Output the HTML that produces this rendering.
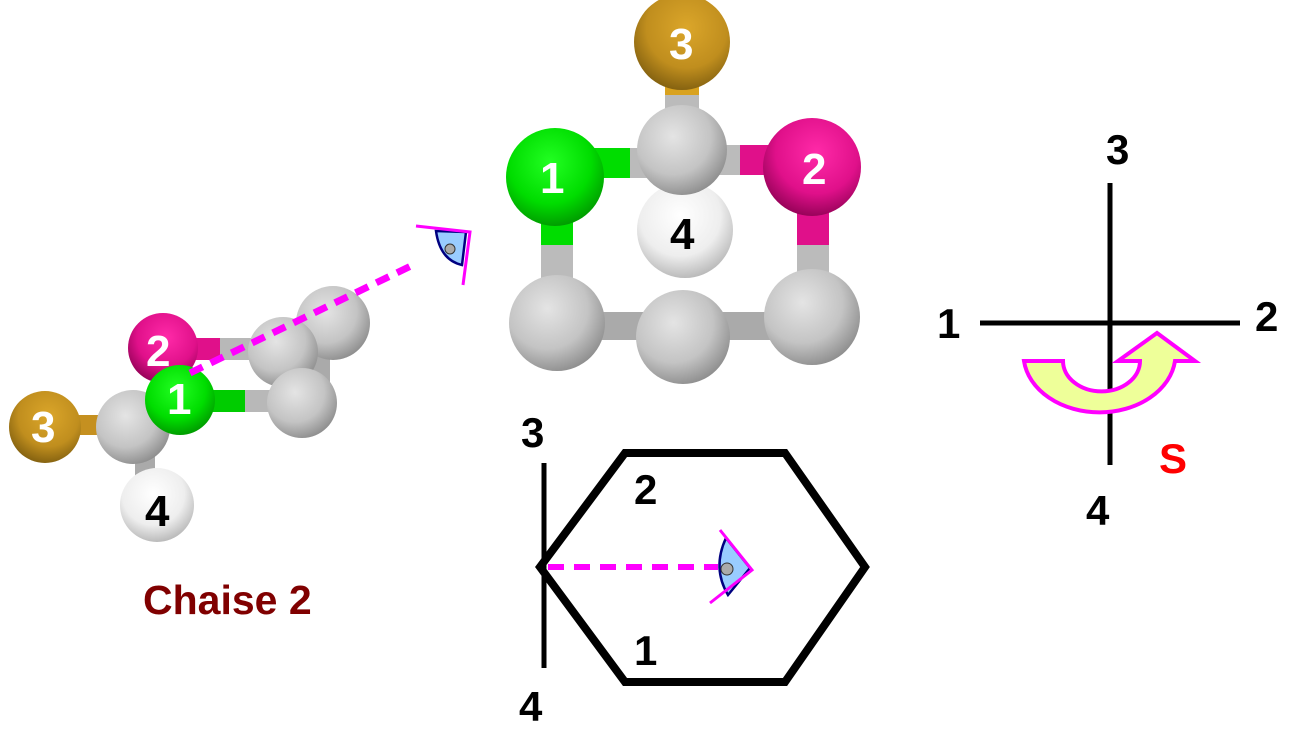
<!DOCTYPE html>
<html><head><meta charset="utf-8"><style>
html,body{margin:0;padding:0;background:#fff;}
svg{display:block}
text{font-family:"Liberation Sans",Arial,sans-serif;font-weight:bold;}
</style></head><body>
<svg width="1303" height="739" viewBox="0 0 1303 739">
<defs>
<radialGradient id="gG" cx="0.4" cy="0.35" r="0.7"><stop offset="0" stop-color="#e4e4e4"/><stop offset="0.6" stop-color="#c4c4c4"/><stop offset="1" stop-color="#8a8a8a"/></radialGradient>
<radialGradient id="gW" cx="0.45" cy="0.35" r="0.7"><stop offset="0" stop-color="#ffffff"/><stop offset="0.6" stop-color="#eeeeee"/><stop offset="1" stop-color="#b0b0b0"/></radialGradient>
<radialGradient id="gO" cx="0.55" cy="0.35" r="0.7"><stop offset="0" stop-color="#dba62a"/><stop offset="0.6" stop-color="#c08e1e"/><stop offset="1" stop-color="#7a5a0e"/></radialGradient>
<radialGradient id="gN" cx="0.45" cy="0.35" r="0.7"><stop offset="0" stop-color="#22ff22"/><stop offset="0.6" stop-color="#00dd00"/><stop offset="1" stop-color="#009000"/></radialGradient>
<radialGradient id="gM" cx="0.55" cy="0.35" r="0.7"><stop offset="0" stop-color="#ff2aa8"/><stop offset="0.6" stop-color="#e0108a"/><stop offset="1" stop-color="#8a0050"/></radialGradient>
</defs>

<!-- Left molecule -->
<g>
<rect x="180" y="338" width="100" height="22" fill="#b8b8b8"/>
<rect x="170" y="338" width="50" height="22" fill="#e0108a"/>
<rect x="190" y="390" width="110" height="22" fill="#b8b8b8"/>
<rect x="200" y="390" width="45" height="22" fill="#00cc00"/>
<rect x="305" y="340" width="25" height="60" fill="#aaa"/>
<rect x="60" y="415" width="60" height="20" fill="#c59020"/>
<rect x="135" y="445" width="20" height="40" fill="#aaa"/>
<circle cx="333" cy="323" r="37" fill="url(#gG)"/>
<circle cx="283" cy="352" r="35" fill="url(#gG)"/>
<circle cx="302" cy="403" r="35" fill="url(#gG)"/>
<circle cx="163" cy="348" r="35" fill="url(#gM)"/>
<circle cx="157" cy="505" r="37" fill="url(#gW)"/>
<circle cx="45" cy="427" r="36" fill="url(#gO)"/>
<circle cx="133" cy="427" r="37" fill="url(#gG)"/>
<circle cx="180" cy="400" r="35" fill="url(#gN)"/>
<text x="146" y="366" font-size="44" fill="#fff">2</text>
<text x="167" y="414" font-size="44" fill="#fff">1</text>
<text x="31" y="442" font-size="44" fill="#fff">3</text>
<text x="145" y="526" font-size="44" fill="#000">4</text>
<line x1="190" y1="373" x2="413" y2="265" stroke="#ff00ff" stroke-width="7" stroke-dasharray="14,9"/>
<path d="M436 231 Q440 260 462 265 L466 232 Z" fill="#99ccff" stroke="#000080" stroke-width="2.5"/>
<circle cx="450" cy="249" r="5" fill="#aaa" stroke="#333" stroke-width="1"/>
<polyline points="416,226 470,232 463,285" fill="none" stroke="#ff00ff" stroke-width="3"/>
<text x="143" y="614" font-size="41" fill="#800000">Chaise 2</text>
</g>

<!-- Top middle molecule -->
<g>
<rect x="665" y="85" width="34" height="30" fill="#bbb"/>
<rect x="665" y="85" width="34" height="10" fill="#d9a21f"/>
<rect x="590" y="148" width="70" height="30" fill="#bbb"/>
<rect x="590" y="148" width="40" height="30" fill="#00dd00"/>
<rect x="710" y="145" width="80" height="30" fill="#bbb"/>
<rect x="740" y="145" width="50" height="30" fill="#e0108a"/>
<rect x="541" y="210" width="32" height="70" fill="#bbb"/>
<rect x="541" y="210" width="32" height="35" fill="#00dd00"/>
<rect x="797" y="205" width="32" height="70" fill="#bbb"/>
<rect x="797" y="205" width="32" height="40" fill="#e0108a"/>
<rect x="590" y="312" width="200" height="28" fill="#aaa"/>
<circle cx="682" cy="42" r="48" fill="url(#gO)"/>
<circle cx="685" cy="230" r="48" fill="url(#gW)"/>
<circle cx="682" cy="150" r="45" fill="url(#gG)"/>
<circle cx="555" cy="177" r="49" fill="url(#gN)"/>
<circle cx="812" cy="167" r="49" fill="url(#gM)"/>
<circle cx="557" cy="323" r="48" fill="url(#gG)"/>
<circle cx="812" cy="317" r="48" fill="url(#gG)"/>
<circle cx="683" cy="337" r="47" fill="url(#gG)"/>
<text x="669" y="59" font-size="44" fill="#fff">3</text>
<text x="540" y="193" font-size="44" fill="#fff">1</text>
<text x="802" y="184" font-size="44" fill="#fff">2</text>
<text x="670" y="249" font-size="44" fill="#000">4</text>
</g>

<!-- Hexagon diagram -->
<g>
<polygon points="540,567 625,453 785,453 865,567 785,682 625,682" fill="none" stroke="#000" stroke-width="8" stroke-linejoin="miter"/>
<line x1="544" y1="463" x2="544" y2="668" stroke="#000" stroke-width="5"/>
<line x1="548" y1="567" x2="718" y2="567" stroke="#ff00ff" stroke-width="6" stroke-dasharray="16,10"/>
<path d="M726 538 Q712 568 728 595 L750 568 Z" fill="#99ccff" stroke="#000080" stroke-width="2.5"/>
<circle cx="727" cy="569" r="6" fill="#aaa" stroke="#333" stroke-width="1"/>
<polyline points="720,530 752,570 710,603" fill="none" stroke="#ff00ff" stroke-width="3"/>
<text x="521" y="447" font-size="42" fill="#000">3</text>
<text x="519" y="721" font-size="42" fill="#000">4</text>
<text x="634" y="504" font-size="42" fill="#000">2</text>
<text x="634" y="665" font-size="42" fill="#000">1</text>
</g>

<!-- Right cross -->
<g>
<line x1="1110" y1="183" x2="1110" y2="465" stroke="#000" stroke-width="5"/>
<line x1="980" y1="323" x2="1240" y2="323" stroke="#000" stroke-width="5"/>
<path d="M1024 361 L1063 361 A38 30 0 0 0 1140 361 L1118 361 L1157 333 L1195 361 L1175 361 A76 58 0 0 1 1024 361 Z" fill="#eeff99" stroke="#ff00ff" stroke-width="4" stroke-linejoin="miter"/>
<text x="1106" y="164" font-size="42" fill="#000">3</text>
<text x="937" y="338" font-size="42" fill="#000">1</text>
<text x="1255" y="331" font-size="42" fill="#000">2</text>
<text x="1086" y="525" font-size="42" fill="#000">4</text>
<text x="1159" y="473" font-size="42" fill="#ff0000">S</text>
</g>
</svg>
</body></html>
